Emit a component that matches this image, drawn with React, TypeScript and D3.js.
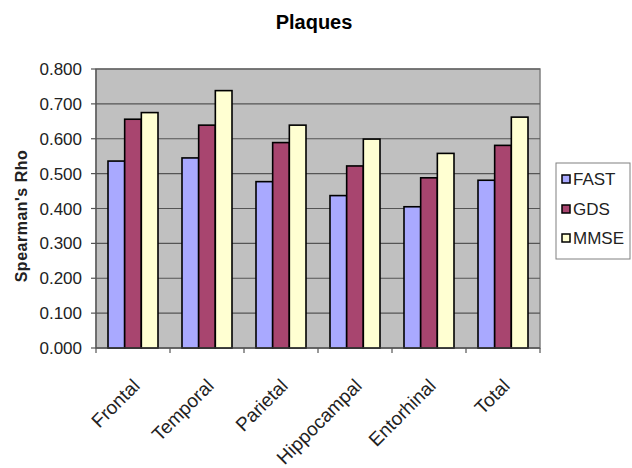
import React from "react";
import * as d3 from "d3";

const categories = ["Frontal", "Temporal", "Parietal", "Hippocampal", "Entorhinal", "Total"];
const seriesNames = ["FAST", "GDS", "MMSE"];
const fastValues = [0.536, 0.545, 0.477, 0.437, 0.405, 0.481];
const gdsValues = [0.656, 0.639, 0.589, 0.522, 0.488, 0.581];
const mmseValues = [0.675, 0.738, 0.639, 0.599, 0.558, 0.662];
const yTicks = [0, 0.1, 0.2, 0.3, 0.4, 0.5, 0.6, 0.7, 0.8];
const colors = ["#a9a9ff", "#a8456f", "#ffffd2"];

export default function App() {
  const W = 632, H = 468;
  const left = 96, right = 540, top = 69, bottom = 348;
  const series = [fastValues, gdsValues, mmseValues];
  const x = d3.scaleBand().domain(categories).range([left, right]).paddingInner(0).paddingOuter(0);
  const inner = d3.scaleBand().domain(seriesNames).range([0, 50]);
  const y = d3.scaleLinear().domain([0, 0.8]).range([bottom, top]);
  const font = "'Liberation Sans', Arial, sans-serif";
  const groupOffset = (x.bandwidth() - 50) / 2;
  return (
    <svg width={W} height={H} style={{ position: "absolute", left: 0, top: 0, background: "#fff" }} fontFamily={font}>
      <text x={314} y={29} textAnchor="middle" fontSize={20} fontWeight="bold" fill="#000">Plaques</text>
      <rect x={left} y={top} width={right - left} height={bottom - top} fill="#c0c0c0" stroke="#808080" strokeWidth={1.5} />
      {yTicks.map((t) => (
        <g key={t}>
          <line x1={left} x2={right} y1={y(t)} y2={y(t)} stroke="#555" strokeWidth={1.2} />
          <line x1={left - 5} x2={left} y1={y(t)} y2={y(t)} stroke="#555" strokeWidth={1.2} />
          <text x={82} y={y(t) + 6} textAnchor="end" fontSize={17} fill="#222">{d3.format(".3f")(t)}</text>
        </g>
      ))}
      {categories.map((c, i) => (
        <g key={c}>
          {series.map((vals, s) => (
            <rect key={s}
              x={(x(c) as number) + groupOffset + (inner(seriesNames[s]) as number)}
              y={y(vals[i])}
              width={inner.bandwidth()}
              height={bottom - y(vals[i])}
              fill={colors[s]} stroke="#000" strokeWidth={1.6} />
          ))}
        </g>
      ))}
      <line x1={left} x2={left} y1={top} y2={bottom} stroke="#555" strokeWidth={1.2} />
      <line x1={left} x2={right} y1={bottom} y2={bottom} stroke="#555" strokeWidth={1.2} />
      {[...categories.map((c) => x(c) as number), right].map((t, i) => (
        <line key={i} x1={t} x2={t} y1={bottom} y2={bottom + 5} stroke="#555" strokeWidth={1.2} />
      ))}
      {categories.map((c) => {
        const cx = (x(c) as number) + x.bandwidth() / 2;
        return (
          <text key={c} transform={`translate(${cx + 8},${387}) rotate(-45)`} textAnchor="end" fontSize={19} fill="#222">{c}</text>
        );
      })}
      <text transform={`translate(27,216) rotate(-90)`} textAnchor="middle" fontSize={16} fontWeight="bold" letterSpacing={0.5} fill="#222">Spearman's Rho</text>
      <rect x={556} y={163} width={74} height={96} fill="#fff" stroke="#808080" strokeWidth={1} />
      {seriesNames.map((n, s) => (
        <g key={n}>
          <rect x={562} y={[175, 205, 234][s]} width={8} height={8} fill={colors[s]} stroke="#000" strokeWidth={1.5} />
          <text x={573} y={[185, 215, 244][s]} fontSize={17} fill="#222">{n}</text>
        </g>
      ))}
    </svg>
  );
}
